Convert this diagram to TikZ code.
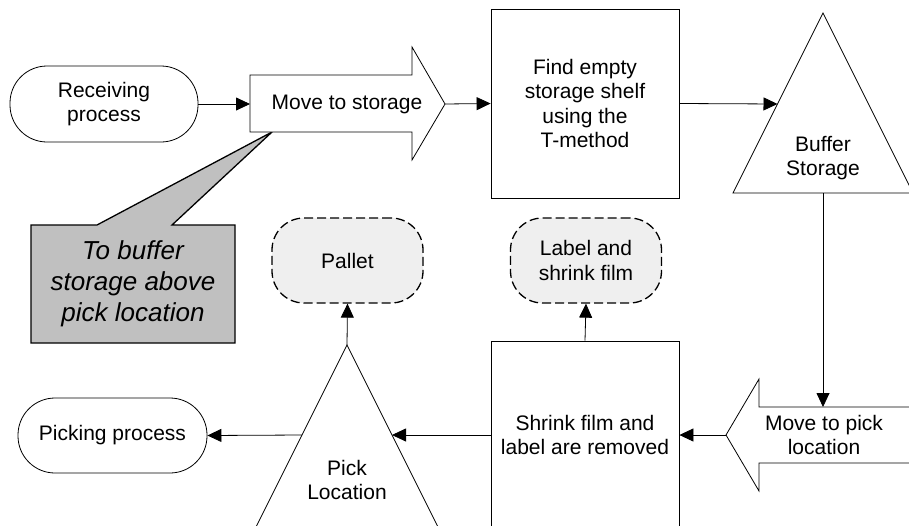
\documentclass[tikz,border=0pt]{standalone}
\usepackage{fontspec}
\setmainfont{Liberation Sans}
\usetikzlibrary{arrows.meta}
\definecolor{calloutgray}{HTML}{C0C0C0}
\definecolor{notegray}{HTML}{EFEFEF}
\begin{document}
\begin{tikzpicture}[x=1pt,y=-1pt,
  every node/.style={font=\fontsize{21}{24.2}\selectfont, align=center, inner sep=0pt},
  shp/.style={draw, line width=0.8pt},
  conn/.style={draw, line width=0.8pt, -{Triangle[length=14pt,width=13pt]}},
  stadium/.style={shp, minimum width=188pt, minimum height=76pt, rounded corners=37pt},
  procbox/.style={shp, minimum width=188pt},
  note/.style={draw, dash pattern=on 9pt off 4pt, line width=1.3pt, fill=notegray, rounded corners=32pt, minimum width=151pt, minimum height=85pt},
  callout/.style={draw, line width=1.3pt, fill=calloutgray},
  calltext/.style={font=\fontsize{26}{31}\selectfont\itshape},
]
\useasboundingbox (0,0) rectangle (909,525);
\clip (0,0) rectangle (909,525);

% callout (drawn first, under the arrow shape)
\draw[callout] (31,225) -- (97,225) -- (272,132) -- (172,225) -- (235,225) -- (235,343) -- (31,343) -- cycle;
\node[calltext] (call) at (133,284) {To buffer\\storage above\\pick location};

% terminals
\node[stadium] (rp) at (104,104) {Receiving\\process};
\node[stadium, minimum width=189pt, minimum height=75pt] (pp) at (112.5,435.5) {Picking process};

% move to storage (right arrow shape)
\draw[shp, fill=white] (250,75) -- (412,75) -- (412,47) -- (445,104) -- (412,160) -- (412,132) -- (250,132) -- cycle;
\node (ms) at (347,104) {Move to storage};
\coordinate (msT) at (250,104);
\coordinate (msH) at (445,104);

% process boxes
\node[procbox, minimum height=189pt] (find) at (585,103.5) {Find empty\\storage shelf\\using the\\T-method};
\node[procbox, minimum height=188pt] (shrink) at (585,435) {Shrink film and\\label are removed};

% buffer storage triangle
\draw[shp] (823,13) -- (913,193) -- (733,193) -- cycle;
\node (buf) at (823,158) {Buffer\\Storage};
\coordinate (bufL) at (777.5,104);
\coordinate (bufB) at (823,193);

% move to pick location (left arrow shape)
\draw[shp] (726,435) -- (759,379) -- (759,407) -- (915,407) -- (915,463) -- (759,463) -- (759,491) -- cycle;
\node (mp) at (824,435) {Move to pick\\location};
\coordinate (mpT) at (823,407);
\coordinate (mpH) at (726,435);

% pick location triangle
\draw[shp] (347,345) -- (447,545) -- (247,545) -- cycle;
\node (pick) at (347,480) {Pick\\Location};
\coordinate (pickT) at (347,345);
\coordinate (pickR) at (392,435);
\coordinate (pickL) at (302,435);

% dashed notes
\node[note] (pal) at (347.5,260.5) {Pallet};
\node[note] (lab) at (586,260.5) {Label and\\shrink film};

% connectors
\draw[conn] (rp.east) -- (msT);
\draw[conn] (msH) -- (find.west);
\draw[conn] (find.east) -- (bufL);
\draw[conn] (bufB) -- (mpT);
\draw[conn] (mpH) -- (shrink.east);
\draw[conn] (shrink.west) -- (pickR);
\draw[conn] (pickL) -- (pp.east);
\draw[conn] (pickT) -- (pal.south);
\draw[conn] (shrink.north) -- (lab.south);
\end{tikzpicture}
\end{document}
